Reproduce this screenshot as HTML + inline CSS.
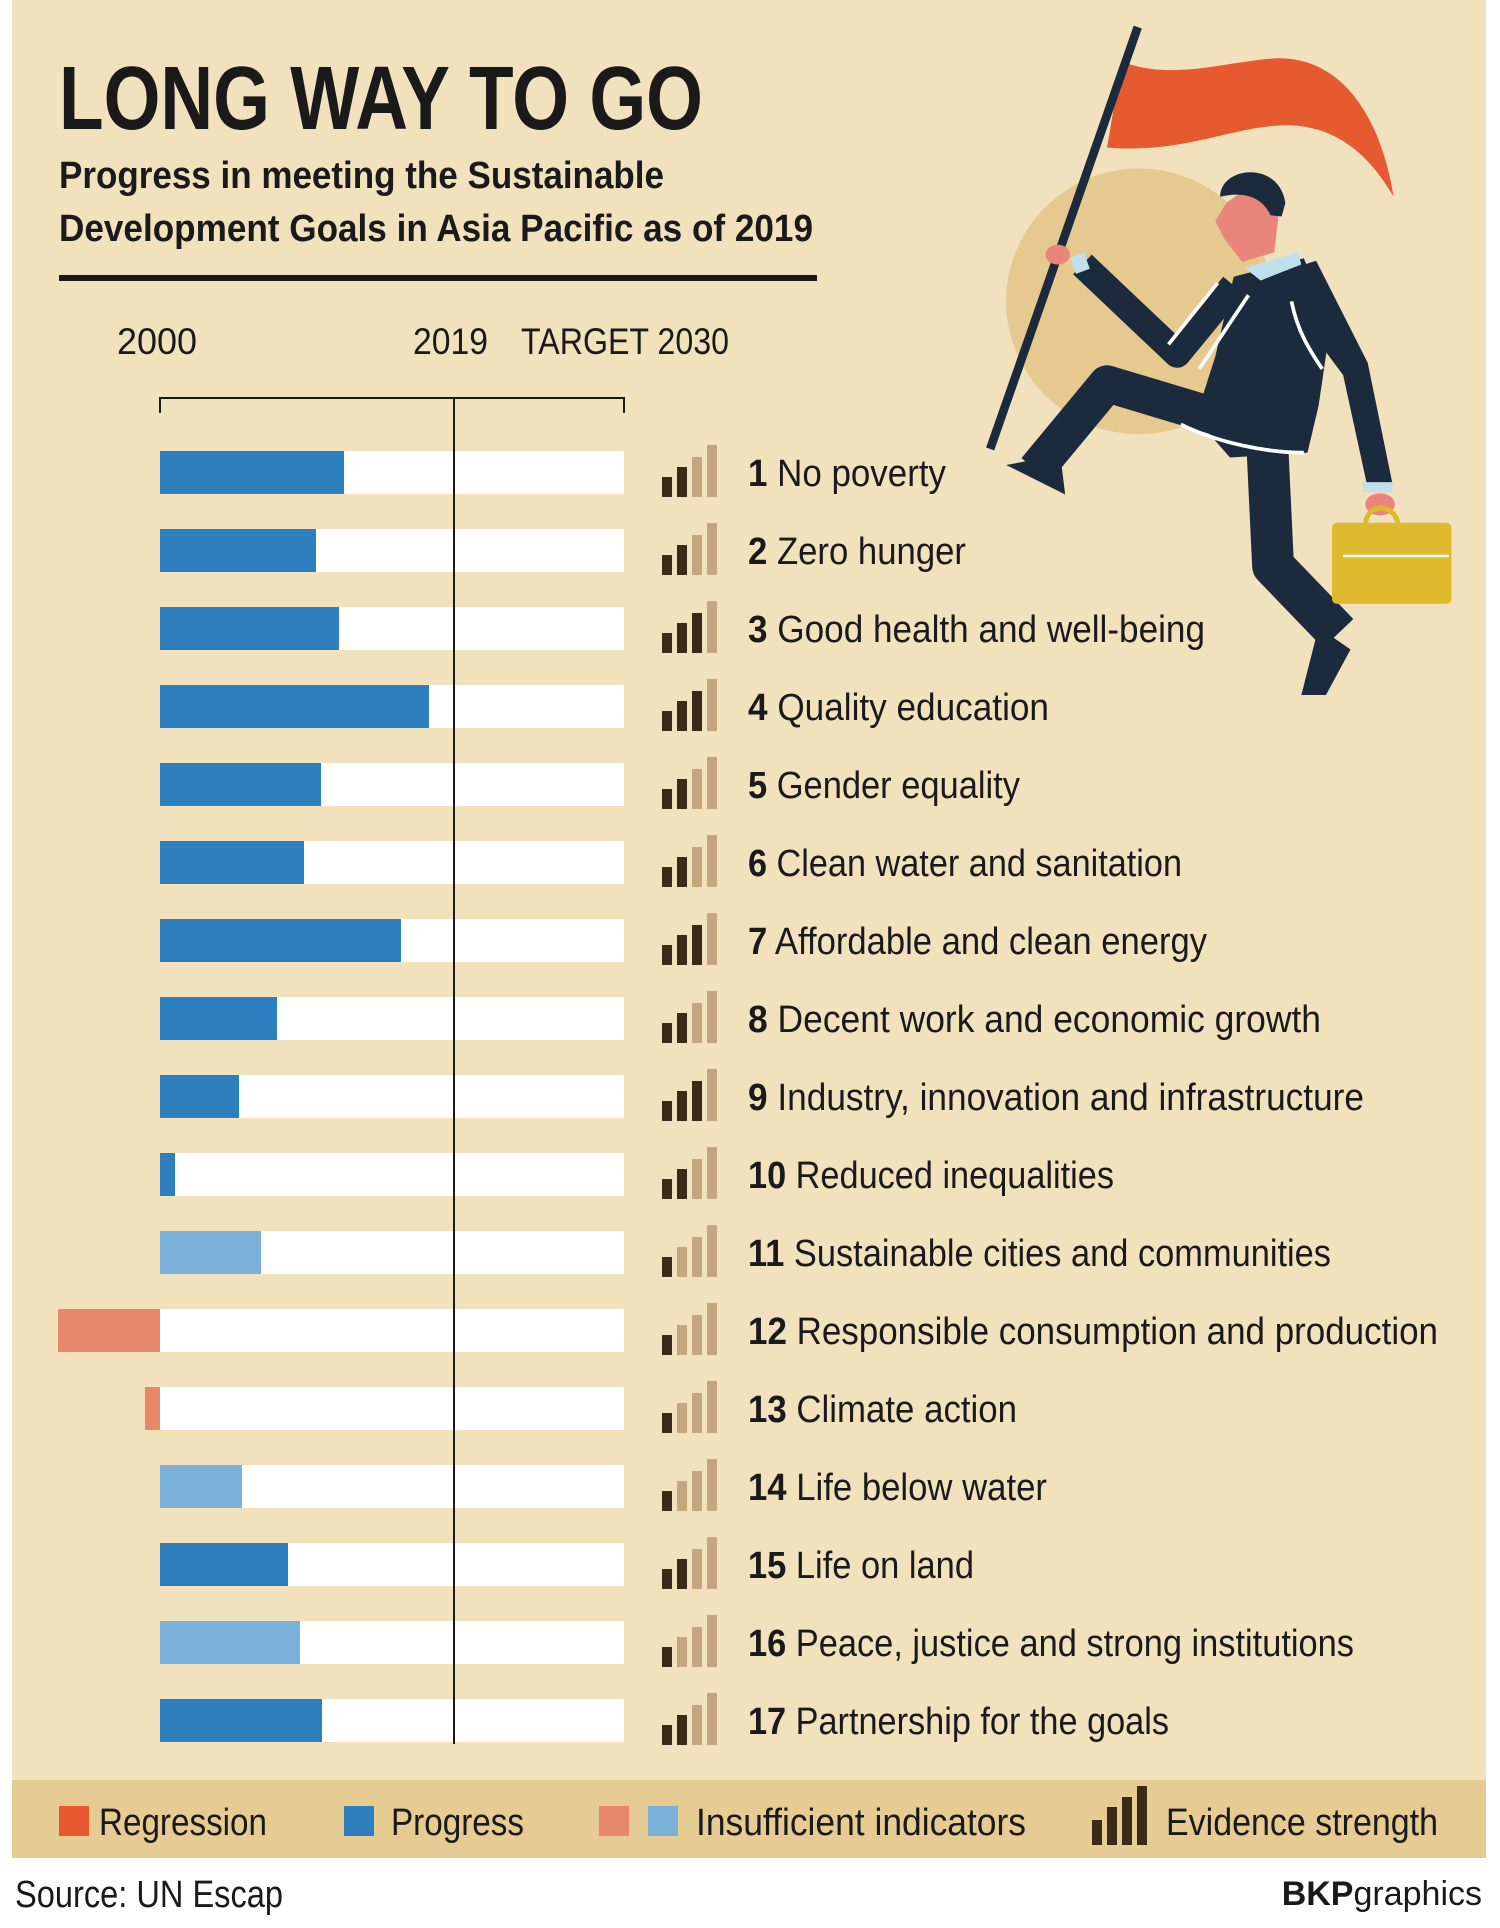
<!DOCTYPE html>
<html><head><meta charset="utf-8"><style>html,body{margin:0;padding:0;background:#fff}svg{display:block}</style></head><body>
<svg width="1500" height="1928" viewBox="0 0 1500 1928" xmlns="http://www.w3.org/2000/svg" font-family="Liberation Sans, sans-serif">
<rect x="0" y="0" width="1500" height="1928" fill="#fff"/>
<rect x="12" y="0" width="1474" height="1780" fill="#f1e1bd"/>
<rect x="12" y="1780" width="1474" height="78" fill="#e6cb92"/>

<!-- illustration in display coords -->
<g transform="scale(1.23)">
<circle cx="926" cy="245" r="108" fill="#e6c98f"/>
<path d="M912,50 C950,65 990,52 1030,48 C1080,42 1120,80 1133,160 C1110,120 1080,100 1040,102 C1000,104 960,125 900,120 Z" fill="#e65a30"/>
<line x1="805" y1="365" x2="925" y2="22" stroke="#1c2a3d" stroke-width="7"/>
<!-- back arm -->
<path d="M1045,220 L1070,212 L1112,295 L1132,393 L1112,397 L1092,305 L1060,262 Z" fill="#1c2a3d"/>
<!-- back leg -->
<polyline points="1030,355 1035,460 1088,515" fill="none" stroke="#1c2a3d" stroke-width="34" stroke-linejoin="round"/>
<path d="M1072,510 L1098,528 L1078,565 L1058,565 Z" fill="#1c2a3d"/>
<!-- torso -->
<path d="M1003,225 L1060,210 L1082,262 L1072,330 L1063,368 L1000,372 L972,340 L988,290 Z" fill="#1c2a3d"/>
<!-- front leg -->
<polyline points="1020,348 900,312 842,382" fill="none" stroke="#1c2a3d" stroke-width="30" stroke-linejoin="round"/>
<path d="M818,378 L862,370 L866,402 Z" fill="#1c2a3d"/>
<!-- front arm -->
<polyline points="880,215 957,288 1003,232" fill="none" stroke="#1c2a3d" stroke-width="22" stroke-linejoin="round"/>
<path d="M950,280 L990,230 M975,300 L1015,240 M1050,245 C1055,270 1065,285 1075,300 M960,345 C990,360 1030,368 1060,368" fill="none" stroke="#fff" stroke-width="3"/>
<rect x="872" y="207" width="12" height="14" fill="#bfe1ee" transform="rotate(-20 878 214)"/>
<ellipse cx="860" cy="207" rx="10" ry="8" fill="#ea857b"/>
<path d="M1012,218 L1055,205 L1058,215 L1025,228 Z" fill="#bfe1ee"/>
<path d="M997,165 L1018,150 L1040,170 L1036,205 L1010,213 L996,195 L988,180 Z" fill="#ea857b"/>
<path d="M992,160 C992,135 1040,130 1045,165 L1042,176 L1033,175 C1025,158 1008,156 992,160 Z" fill="#1c2a3d"/>
<rect x="1108" y="392" width="24" height="8" fill="#bfe1ee"/>
<ellipse cx="1122" cy="410" rx="12" ry="9" fill="#ea857b"/>
<path d="M1110,428 C1110,408 1135,408 1137,428" fill="none" stroke="#dfb92d" stroke-width="4"/>
<rect x="1083" y="425" width="97" height="66" rx="4" fill="#dfb92d"/>
<line x1="1092" y1="452" x2="1178" y2="452" stroke="#fff" stroke-width="2"/>
</g>

<!-- title -->
<text x="59" y="129" font-size="90" font-weight="bold" fill="#1a1a1a" textLength="644" lengthAdjust="spacingAndGlyphs">LONG WAY TO GO</text>
<text x="59" y="188" font-size="38" font-weight="bold" fill="#1a1a1a" textLength="605" lengthAdjust="spacingAndGlyphs">Progress in meeting the Sustainable</text>
<text x="59" y="241" font-size="38" font-weight="bold" fill="#1a1a1a" textLength="754" lengthAdjust="spacingAndGlyphs">Development Goals in Asia Pacific as of 2019</text>
<rect x="59" y="275" width="758" height="6" fill="#1a1a1a"/>

<g font-size="37" fill="#1a1a1a">
<text x="117" y="354" textLength="80" lengthAdjust="spacingAndGlyphs">2000</text>
<text x="413" y="354" textLength="75" lengthAdjust="spacingAndGlyphs">2019</text>
<text x="521" y="354" textLength="208" lengthAdjust="spacingAndGlyphs">TARGET 2030</text>
</g>
<path d="M160,413 V398 H624 V413" fill="none" stroke="#1a1a1a" stroke-width="2"/>

<g id="bars">
<g fill="#fff">
<rect x="160" y="451" width="464" height="43"/><rect x="160" y="529" width="464" height="43"/><rect x="160" y="607" width="464" height="43"/><rect x="160" y="685" width="464" height="43"/><rect x="160" y="763" width="464" height="43"/><rect x="160" y="841" width="464" height="43"/><rect x="160" y="919" width="464" height="43"/><rect x="160" y="997" width="464" height="43"/><rect x="160" y="1075" width="464" height="43"/><rect x="160" y="1153" width="464" height="43"/><rect x="160" y="1231" width="464" height="43"/><rect x="160" y="1309" width="464" height="43"/><rect x="160" y="1387" width="464" height="43"/><rect x="160" y="1465" width="464" height="43"/><rect x="160" y="1543" width="464" height="43"/><rect x="160" y="1621" width="464" height="43"/><rect x="160" y="1699" width="464" height="43"/>
</g>
<g fill="#2e7fbd">
<rect x="160" y="451" width="184" height="43"/><rect x="160" y="529" width="156" height="43"/><rect x="160" y="607" width="179" height="43"/><rect x="160" y="685" width="269" height="43"/><rect x="160" y="763" width="161" height="43"/><rect x="160" y="841" width="144" height="43"/><rect x="160" y="919" width="241" height="43"/><rect x="160" y="997" width="117" height="43"/><rect x="160" y="1075" width="79" height="43"/><rect x="160" y="1153" width="15" height="43"/><rect x="160" y="1543" width="128" height="43"/><rect x="160" y="1699" width="162" height="43"/>
</g>
<g fill="#7bb0d8">
<rect x="160" y="1231" width="101" height="43"/><rect x="160" y="1465" width="82" height="43"/><rect x="160" y="1621" width="140" height="43"/>
</g>
<g fill="#e8876a">
<rect x="58" y="1309" width="102" height="43"/><rect x="145" y="1387" width="15" height="43"/>
</g>
</g>
<line x1="454" y1="398" x2="454" y2="1744" stroke="#1a1a1a" stroke-width="2"/>

<defs>
<g id="i1"><rect x="0" y="-20" width="10" height="20" fill="#3b2a17"/><rect x="15" y="-30" width="10" height="30" fill="#c2a67e"/><rect x="30" y="-40" width="10" height="40" fill="#c2a67e"/><rect x="45" y="-52" width="10" height="52" fill="#c2a67e"/></g>
<g id="i2"><rect x="0" y="-20" width="10" height="20" fill="#3b2a17"/><rect x="15" y="-30" width="10" height="30" fill="#3b2a17"/><rect x="30" y="-40" width="10" height="40" fill="#c2a67e"/><rect x="45" y="-52" width="10" height="52" fill="#c2a67e"/></g>
<g id="i3"><rect x="0" y="-20" width="10" height="20" fill="#3b2a17"/><rect x="15" y="-30" width="10" height="30" fill="#3b2a17"/><rect x="30" y="-40" width="10" height="40" fill="#3b2a17"/><rect x="45" y="-52" width="10" height="52" fill="#c2a67e"/></g>
</defs>
<use href="#i2" x="662" y="497"/><use href="#i2" x="662" y="575"/><use href="#i3" x="662" y="653"/><use href="#i3" x="662" y="731"/><use href="#i2" x="662" y="809"/><use href="#i2" x="662" y="887"/><use href="#i3" x="662" y="965"/><use href="#i2" x="662" y="1043"/><use href="#i3" x="662" y="1121"/><use href="#i2" x="662" y="1199"/><use href="#i1" x="662" y="1277"/><use href="#i1" x="662" y="1355"/><use href="#i1" x="662" y="1433"/><use href="#i1" x="662" y="1511"/><use href="#i2" x="662" y="1589"/><use href="#i1" x="662" y="1667"/><use href="#i2" x="662" y="1745"/>

<g font-size="38" fill="#1a1a1a">
<text x="748" y="486" textLength="198" lengthAdjust="spacingAndGlyphs"><tspan font-weight="bold">1</tspan> No poverty</text>
<text x="748" y="564" textLength="218" lengthAdjust="spacingAndGlyphs"><tspan font-weight="bold">2</tspan> Zero hunger</text>
<text x="748" y="642" textLength="457" lengthAdjust="spacingAndGlyphs"><tspan font-weight="bold">3</tspan> Good health and well-being</text>
<text x="748" y="720" textLength="301" lengthAdjust="spacingAndGlyphs"><tspan font-weight="bold">4</tspan> Quality education</text>
<text x="748" y="798" textLength="272" lengthAdjust="spacingAndGlyphs"><tspan font-weight="bold">5</tspan> Gender equality</text>
<text x="748" y="876" textLength="434" lengthAdjust="spacingAndGlyphs"><tspan font-weight="bold">6</tspan> Clean water and sanitation</text>
<text x="748" y="954" textLength="459" lengthAdjust="spacingAndGlyphs"><tspan font-weight="bold">7</tspan> Affordable and clean energy</text>
<text x="748" y="1032" textLength="573" lengthAdjust="spacingAndGlyphs"><tspan font-weight="bold">8</tspan> Decent work and economic growth</text>
<text x="748" y="1110" textLength="616" lengthAdjust="spacingAndGlyphs"><tspan font-weight="bold">9</tspan> Industry, innovation and infrastructure</text>
<text x="748" y="1188" textLength="366" lengthAdjust="spacingAndGlyphs"><tspan font-weight="bold">10</tspan> Reduced inequalities</text>
<text x="748" y="1266" textLength="583" lengthAdjust="spacingAndGlyphs"><tspan font-weight="bold">11</tspan> Sustainable cities and communities</text>
<text x="748" y="1344" textLength="690" lengthAdjust="spacingAndGlyphs"><tspan font-weight="bold">12</tspan> Responsible consumption and production</text>
<text x="748" y="1422" textLength="269" lengthAdjust="spacingAndGlyphs"><tspan font-weight="bold">13</tspan> Climate action</text>
<text x="748" y="1500" textLength="299" lengthAdjust="spacingAndGlyphs"><tspan font-weight="bold">14</tspan> Life below water</text>
<text x="748" y="1578" textLength="226" lengthAdjust="spacingAndGlyphs"><tspan font-weight="bold">15</tspan> Life on land</text>
<text x="748" y="1656" textLength="606" lengthAdjust="spacingAndGlyphs"><tspan font-weight="bold">16</tspan> Peace, justice and strong institutions</text>
<text x="748" y="1734" textLength="421" lengthAdjust="spacingAndGlyphs"><tspan font-weight="bold">17</tspan> Partnership for the goals</text>
</g>

<rect x="59" y="1806" width="30" height="30" fill="#e8572f"/>
<rect x="344" y="1806" width="30" height="30" fill="#2e7fbd"/>
<rect x="599" y="1806" width="30" height="30" fill="#e8876a"/>
<rect x="648" y="1806" width="30" height="30" fill="#7bb0d8"/>
<g fill="#3b2a17"><rect x="1092" y="1820" width="10" height="25"/><rect x="1107" y="1807" width="10" height="38"/><rect x="1122" y="1797" width="10" height="48"/><rect x="1137" y="1786" width="10" height="59"/></g>
<g font-size="38" fill="#1a1a1a">
<text x="99" y="1835" textLength="168" lengthAdjust="spacingAndGlyphs">Regression</text>
<text x="391" y="1835" textLength="133" lengthAdjust="spacingAndGlyphs">Progress</text>
<text x="696" y="1835" textLength="330" lengthAdjust="spacingAndGlyphs">Insufficient indicators</text>
<text x="1166" y="1835" textLength="272" lengthAdjust="spacingAndGlyphs">Evidence strength</text>
<text x="15" y="1907" textLength="268" lengthAdjust="spacingAndGlyphs">Source: UN Escap</text>
</g>
<text x="1482" y="1905" font-size="34" fill="#1a1a1a" text-anchor="end"><tspan font-weight="bold">BKP</tspan>graphics</text>
</svg>
</body></html>
